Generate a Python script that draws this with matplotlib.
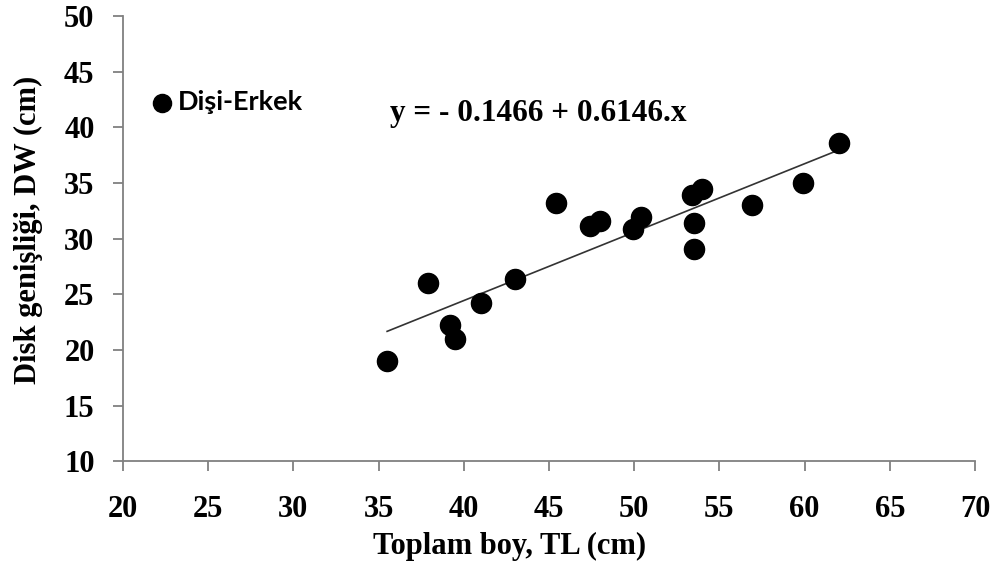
import numpy as np
import matplotlib.pyplot as plt

# total length (cm) and disc width (cm)
tl = [35.5, 37.9, 39.2, 39.5, 41.0, 43.0, 45.4, 47.4, 48.0, 49.9,
      50.4, 53.4, 54.0, 53.5, 53.5, 56.9, 59.9, 62.0]
dw = [19.0, 26.0, 22.2, 21.0, 24.2, 26.4, 33.2, 31.1, 31.6, 30.9,
      31.9, 33.9, 34.5, 31.4, 29.05, 33.0, 35.0, 38.55]

a, b = -0.1466, 0.6146
xticks = [20, 25, 30, 35, 40, 45, 50, 55, 60, 65, 70]
yticks = [10, 15, 20, 25, 30, 35, 40, 45, 50]

serif = 'Liberation Serif'

fig = plt.figure(figsize=(9.99, 5.7), dpi=100)
ax = fig.add_axes([0.1231, 0.1907, 0.8529, 0.7813])

ax.scatter(tl, dw, s=210, color='black', zorder=3, label='Dişi-Erkek')
xl = np.array([min(tl), max(tl)])
ax.plot(xl, a + b * xl, color='#333333', lw=1.2, zorder=2)

ax.set_xlim(20, 70)
ax.set_ylim(10, 50)
ax.set_xticks(xticks)
ax.set_yticks(yticks)

for s in ['top', 'right']:
    ax.spines[s].set_visible(False)
for s in ['left', 'bottom']:
    ax.spines[s].set_color('#808080')
    ax.spines[s].set_linewidth(1.3)

ax.tick_params(axis='both', direction='out', length=7.5, width=1.3, color='#808080')
ax.tick_params(axis='x', pad=17)
ax.tick_params(axis='y', pad=13)
for lab in ax.get_xticklabels() + ax.get_yticklabels():
    lab.set_fontfamily(serif)
    lab.set_fontweight('bold')
    lab.set_fontsize(22)

ax.set_xlabel('Toplam boy, TL (cm)', fontfamily=serif, fontweight='bold', fontsize=22)
ax.xaxis.set_label_coords(0.454, -0.158)
ax.set_ylabel('Disk genişliği, DW (cm)', fontfamily=serif, fontweight='bold', fontsize=22)
ax.yaxis.set_label_coords(-0.094, 0.519)

ax.text(0.313, 0.782, 'y = - 0.1466 + 0.6146.x', transform=ax.transAxes,
        fontfamily=serif, fontweight='bold', fontsize=22.5, va='center', ha='left')

leg = ax.legend(loc='center left', bbox_to_anchor=(0.03, 0.807), frameon=False,
                handletextpad=0.1, handlelength=1.0, markerscale=0.9, borderpad=0,
                borderaxespad=0, prop={'family': 'Lato', 'weight': 'bold', 'size': 19.5})

fig.savefig('out.png', dpi=100)
